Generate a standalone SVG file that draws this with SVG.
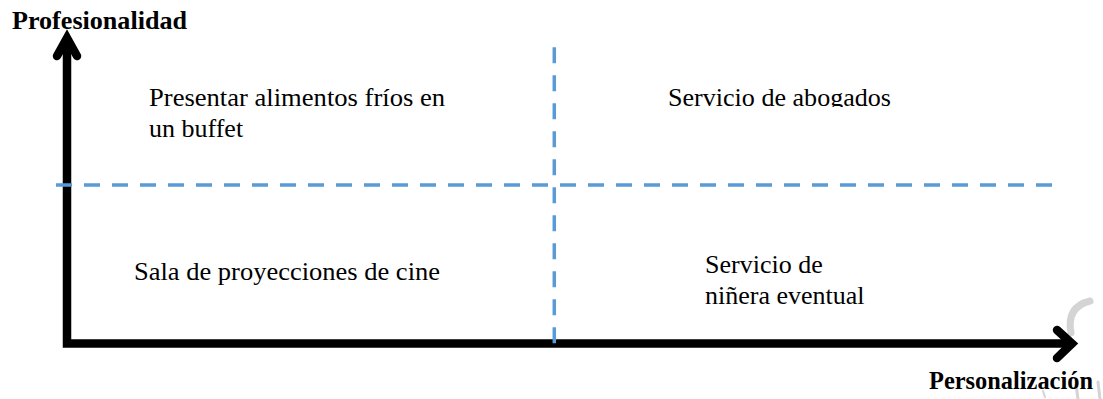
<svg xmlns="http://www.w3.org/2000/svg" width="1103" height="399" viewBox="0 0 1103 399">
<style>
.lbl{font-family:"Liberation Serif","Times New Roman",serif;font-size:26px;fill:#000}
.axl{font-family:"Liberation Serif","Times New Roman",serif;font-size:25px;font-weight:bold;fill:#000}
.axis{fill:none;stroke:#000;stroke-width:8.5;stroke-linejoin:miter;stroke-miterlimit:10}
.head{fill:none;stroke:#000;stroke-width:8.5;stroke-linejoin:miter;stroke-linecap:round;stroke-miterlimit:10}
.dash{fill:none;stroke:#5B9BD5;stroke-width:3.5;stroke-dasharray:16 12}
.wm{fill:none;stroke:#d4d4d4;stroke-linecap:round}
</style>
<defs>
<clipPath id="clipTop"><rect x="600" y="60" width="400" height="47"/></clipPath>
</defs>
<rect width="1103" height="399" fill="#fff"/>
<g id="watermark">
<path class="wm" stroke-width="7" d="M1071,333 Q1066,307 1090,301"/>
<path class="wm" stroke-width="3" d="M1076,385 L1078,399"/>
<path class="wm" stroke-width="3" d="M1098,382 L1100,399"/>
<path class="wm" stroke-width="2" d="M1043,391 L1045,397"/>
</g>
<g id="connectors">
<path id="axes" class="axis" d="M67,38 L67,343.5 L1072,343.5"/>
<polyline id="arrow-y" class="head" points="57,56 67,38 77,56"/>
<polyline id="arrow-x" class="head" points="1057,330 1072,343.5 1057,358"/>
<line id="div-h" class="dash" x1="56" y1="185" x2="1052" y2="185"/>
<line id="div-v" class="dash" x1="554.3" y1="47.3" x2="554.3" y2="343.3"/>
</g>
<g id="label-y"><text class="axl" x="12" y="28.5" textLength="175" lengthAdjust="spacingAndGlyphs">Profesionalidad</text></g>
<g id="label-x"><text class="axl" x="929" y="389" textLength="164" lengthAdjust="spacingAndGlyphs">Personalización</text></g>
<g id="q1">
<text class="lbl" x="149" y="106" textLength="296" lengthAdjust="spacingAndGlyphs">Presentar alimentos fríos en</text>
<text class="lbl" x="149" y="137">un buffet</text>
</g>
<g id="q2"><text class="lbl" x="668" y="106" clip-path="url(#clipTop)" textLength="223" lengthAdjust="spacingAndGlyphs">Servicio de abogados</text></g>
<g id="q3"><text class="lbl" x="134" y="280" textLength="306" lengthAdjust="spacingAndGlyphs">Sala de proyecciones de cine</text></g>
<g id="q4">
<text class="lbl" x="705" y="273">Servicio de</text>
<text class="lbl" x="705" y="304">niñera eventual</text>
</g>
</svg>
